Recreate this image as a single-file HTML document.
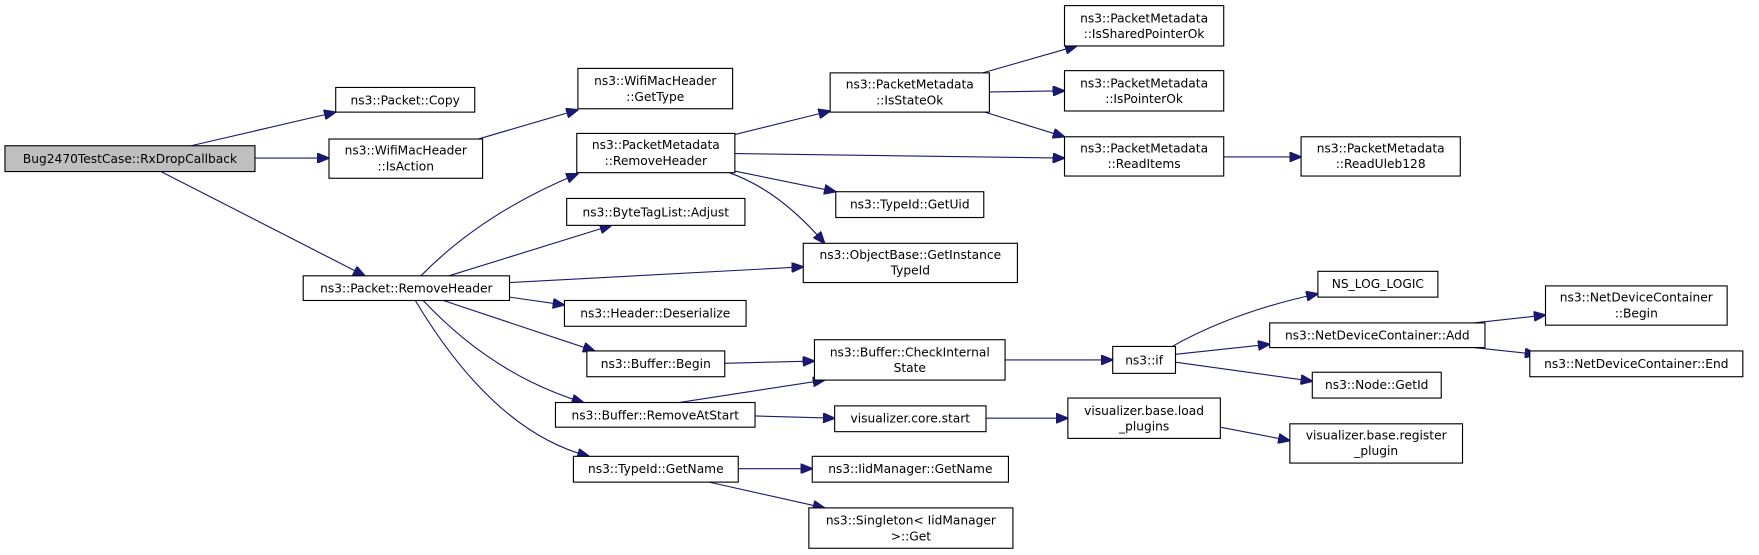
<!DOCTYPE html>
<html><head><meta charset="utf-8"><style>
html,body{margin:0;padding:0;background:#fff;}
svg{display:block;}
text{font-family:"DejaVu Sans","Liberation Sans",sans-serif;font-size:10.9px;fill:#000;text-anchor:middle;}
.n{fill:#fff;stroke:#000;stroke-width:1;}
.e{fill:none;stroke:#191970;stroke-width:1;}
</style></head><body>
<svg width="1759" height="555" viewBox="0 0 1568 495" xmlns="http://www.w3.org/2000/svg">
<defs><marker id="a" markerWidth="11" markerHeight="9" refX="10.5" refY="4.5" orient="auto" markerUnits="userSpaceOnUse"><path d="M0,0 L11,4.5 L0,9 z" fill="#191970" stroke="#191970"/></marker></defs>
<g class="e" marker-end="url(#a)">
<path d="M170,130 L299,100"/>
<path d="M227,141 L293,141"/>
<path d="M143,153 L325,246"/>
<path d="M426,124 L515,98"/>
<path d="M375,246 Q430,190 515,155"/>
<path d="M400,246 L545,201"/>
<path d="M454,252 L716,238"/>
<path d="M454,265 L503,272"/>
<path d="M395,268 L530,313"/>
<path d="M377,268 Q440,335 520,359"/>
<path d="M370,268 Q440,385 525,407"/>
<path d="M655,120 L740,99"/>
<path d="M655,137 L949,141"/>
<path d="M652,152 L745,171"/>
<path d="M650,154 Q695,170 735,217"/>
<path d="M876,65 L960,41"/>
<path d="M882,82 L949,81"/>
<path d="M878,100 L949,122"/>
<path d="M1091,140 L1160,140"/>
<path d="M646,324 L726,322"/>
<path d="M605,359 L735,339"/>
<path d="M673,371 L744,373"/>
<path d="M896,321 L992,321"/>
<path d="M658,418 L724,418"/>
<path d="M632,430 L735,453"/>
<path d="M879,373 L952,373"/>
<path d="M1088,381 L1150,393"/>
<path d="M1045,309 Q1100,278 1175,262"/>
<path d="M1048,316 L1132,307"/>
<path d="M1048,323 L1170,340"/>
<path d="M1314,288 L1378,281"/>
<path d="M1314,310 L1370,316"/>
</g>
<rect x="4" y="130" width="223" height="23" fill="#bfbfbf" stroke="#000"/><text x="115.5" y="145.5">Bug2470TestCase::RxDropCallback</text>
<rect class="n" x="299" y="78" width="124" height="22"/><text x="361" y="93">ns3::Packet::Copy</text>
<rect class="n" x="293" y="124" width="137" height="35"/><text x="361.5" y="138">ns3::WifiMacHeader</text><text x="361.5" y="152">::IsAction</text>
<rect class="n" x="515" y="61" width="138" height="36"/><text x="584" y="76">ns3::WifiMacHeader</text><text x="584" y="90">::GetType</text>
<rect class="n" x="514" y="119" width="141" height="35"/><text x="584.5" y="133">ns3::PacketMetadata</text><text x="584.5" y="147">::RemoveHeader</text>
<rect class="n" x="505" y="177" width="159" height="24"/><text x="584.5" y="193">ns3::ByteTagList::Adjust</text>
<rect class="n" x="716" y="217" width="191" height="35"/><text x="811.5" y="231">ns3::ObjectBase::GetInstance</text><text x="811.5" y="245">TypeId</text>
<rect class="n" x="270" y="246" width="184" height="22"/><text x="362" y="261">ns3::Packet::RemoveHeader</text>
<rect class="n" x="503" y="268" width="162" height="23"/><text x="584" y="283">ns3::Header::Deserialize</text>
<rect class="n" x="523" y="313" width="123" height="23"/><text x="584.5" y="328">ns3::Buffer::Begin</text>
<rect class="n" x="726" y="303" width="170" height="36"/><text x="811" y="318">ns3::Buffer::CheckInternal</text><text x="811" y="332">State</text>
<rect class="n" x="495" y="359" width="178" height="22"/><text x="584" y="374">ns3::Buffer::RemoveAtStart</text>
<rect class="n" x="744" y="362" width="135" height="23"/><text x="811.5" y="377">visualizer.core.start</text>
<rect class="n" x="511" y="407" width="147" height="23"/><text x="584.5" y="422">ns3::TypeId::GetName</text>
<rect class="n" x="724" y="407" width="175" height="23"/><text x="811.5" y="422">ns3::IidManager::GetName</text>
<rect class="n" x="721" y="453" width="182" height="36"/><text x="812" y="468">ns3::Singleton&lt; IidManager</text><text x="812" y="482">&gt;::Get</text>
<rect class="n" x="740" y="65" width="142" height="35"/><text x="811" y="79">ns3::PacketMetadata</text><text x="811" y="93">::IsStateOk</text>
<rect class="n" x="949" y="5" width="142" height="36"/><text x="1020" y="20">ns3::PacketMetadata</text><text x="1020" y="34">::IsSharedPointerOk</text>
<rect class="n" x="949" y="63" width="142" height="36"/><text x="1020" y="78">ns3::PacketMetadata</text><text x="1020" y="92">::IsPointerOk</text>
<rect class="n" x="949" y="122" width="142" height="35"/><text x="1020" y="136">ns3::PacketMetadata</text><text x="1020" y="150">::ReadItems</text>
<rect class="n" x="1160" y="122" width="142" height="35"/><text x="1231" y="136">ns3::PacketMetadata</text><text x="1231" y="150">::ReadUleb128</text>
<rect class="n" x="745" y="171" width="132" height="23"/><text x="811" y="186">ns3::TypeId::GetUid</text>
<rect class="n" x="992" y="309" width="56" height="24"/><text x="1020" y="325">ns3::if</text>
<rect class="n" x="1175" y="242" width="107" height="23"/><text x="1228.5" y="257">NS_LOG_LOGIC</text>
<rect class="n" x="1132" y="288" width="192" height="22"/><text x="1228" y="303">ns3::NetDeviceContainer::Add</text>
<rect class="n" x="1170" y="332" width="115" height="23"/><text x="1227.5" y="347">ns3::Node::GetId</text>
<rect class="n" x="1378" y="255" width="162" height="35"/><text x="1459" y="269">ns3::NetDeviceContainer</text><text x="1459" y="283">::Begin</text>
<rect class="n" x="1364" y="313" width="190" height="23"/><text x="1459" y="328">ns3::NetDeviceContainer::End</text>
<rect class="n" x="952" y="355" width="136" height="36"/><text x="1020" y="370">visualizer.base.load</text><text x="1020" y="384">_plugins</text>
<rect class="n" x="1150" y="378" width="154" height="35"/><text x="1227" y="392">visualizer.base.register</text><text x="1227" y="406">_plugin</text>
</svg>
</body></html>
